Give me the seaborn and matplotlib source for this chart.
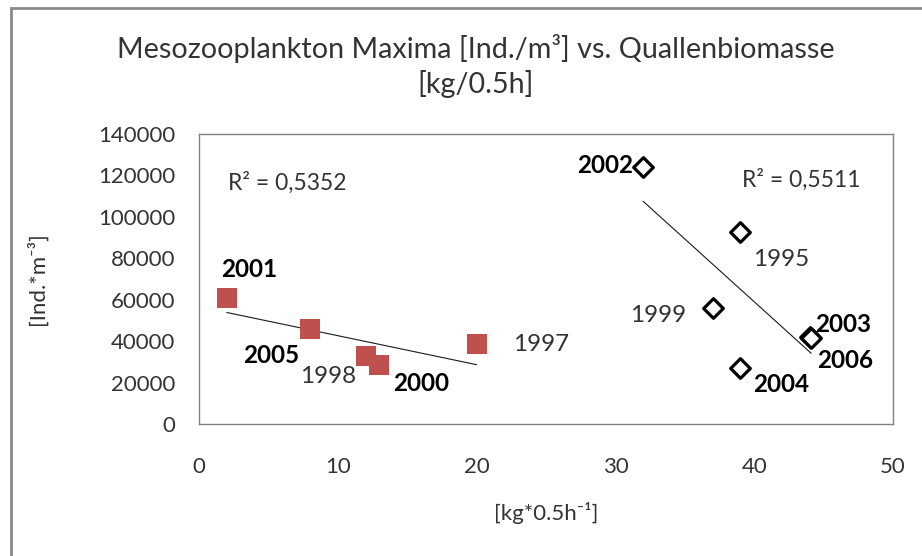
import numpy as np
import pandas as pd
import matplotlib
matplotlib.use('Agg')
import matplotlib.pyplot as plt
import seaborn as sns
from matplotlib.patches import Rectangle
from matplotlib.ticker import FuncFormatter

# ---- data ----
years_low = ['2001', '2005', '1998', '2000', '1997']
biomass_low = [2, 8, 12, 13, 20]
zoo_low = [60700, 45700, 32800, 28400, 38600]

years_high = ['2002', '1995', '1999', '2003', '2006', '2004']
biomass_high = [32, 39, 37, 44, 44.1, 39]
zoo_high = [124300, 92900, 55900, 42200, 41600, 26900]

r2_low = 'R² = 0,5352'
r2_high = 'R² = 0,5511'

x_ticks = [0, 10, 20, 30, 40, 50]
y_ticks = [0, 20000, 40000, 60000, 80000, 100000, 120000, 140000]

bold_years = ['2001', '2005', '2000', '2002', '2003', '2006', '2004']

# label placement (offset in points, horizontal alignment)
label_pos = {
    '2001': (-4, 21, 'left'),
    '2005': (-8, -19, 'right'),
    '1998': (-7, -15, 'right'),
    '2000': (10, -13, 'left'),
    '1997': (26, 0, 'left'),
    '2002': (-7, 1, 'right'),
    '1995': (9, -20, 'left'),
    '1999': (-19, -5, 'right'),
    '2003': (4, 9, 'left'),
    '2006': (4, -16, 'left'),
    '2004': (9, -12, 'left'),
}

df_low = pd.DataFrame({'x': biomass_low, 'y': zoo_low, 'year': years_low})
df_high = pd.DataFrame({'x': biomass_high, 'y': zoo_high, 'year': years_high})

sns.set_style('white')
plt.rcParams['font.family'] = ['Lato', 'DejaVu Sans']
txt = '#333333'

fig = plt.figure(figsize=(9.22, 5.56), dpi=100)
ax = fig.add_axes([199/922, 1 - 424/556, (893 - 199)/922, (424 - 134)/556])

# trend lines (linear fits)
sns.regplot(data=df_low, x='x', y='y', scatter=False, ci=None, truncate=True,
            line_kws={'color': '#1a1a1a', 'lw': 0.8}, ax=ax)
sns.regplot(data=df_high, x='x', y='y', scatter=False, ci=None, truncate=True,
            line_kws={'color': '#1a1a1a', 'lw': 0.8}, ax=ax)

sns.scatterplot(data=df_low, x='x', y='y', marker='s', s=190, color='#C0504D',
                edgecolor='#C0504D', linewidth=0, ax=ax, zorder=3)
sns.scatterplot(data=df_high, x='x', y='y', marker='D', s=100, facecolor='white',
                edgecolor='black', linewidth=2.3, ax=ax, zorder=3)

for d in (df_low, df_high):
    for _, r in d.iterrows():
        dx, dy, ha = label_pos[r['year']]
        isbold = r['year'] in bold_years
        ax.annotate(r['year'], (r['x'], r['y']), xytext=(dx, dy),
                    textcoords='offset points', ha=ha, va='center',
                    fontsize=17.5, color='black' if isbold else txt,
                    fontweight='bold' if isbold else 'normal')

ax.text(2.1, 116400, r2_low, fontsize=16.5, color=txt, va='center', ha='left')
ax.text(39.1, 117900, r2_high, fontsize=16.5, color=txt, va='center', ha='left')

ax.set_xlim(0, 50)
ax.set_ylim(0, 140000)
ax.set_xticks(x_ticks)
ax.set_yticks(y_ticks)
ax.yaxis.set_major_formatter(FuncFormatter(lambda v, p: f'{int(v)}'))
ax.tick_params(axis='both', length=0, labelsize=16, labelcolor=txt)
ax.tick_params(axis='y', pad=17)
ax.tick_params(axis='x', pad=24)
for s in ax.spines.values():
    s.set_color('#808080')
    s.set_linewidth(1)

ax.set_xlabel('[kg*0.5h⁻¹]', fontsize=16, color=txt, labelpad=18)
ax.set_ylabel('[Ind.*m⁻³]', fontsize=16, color=txt, labelpad=36)

fig.text(476/922, 1 - 66/556,
         'Mesozooplankton Maxima [Ind./m³] vs. Quallenbiomasse\n[kg/0.5h]',
         ha='center', va='center', fontsize=20.7, color=txt, linespacing=1.3)

# outer chart border (cut at right and bottom like the reference)
fig.patches.append(Rectangle((11/922, -0.1), 1.2, 1 - 8/556 + 0.1,
                             transform=fig.transFigure, fill=False,
                             ec='#8a8a8a', lw=2))

fig.savefig('out.png', dpi=100)
